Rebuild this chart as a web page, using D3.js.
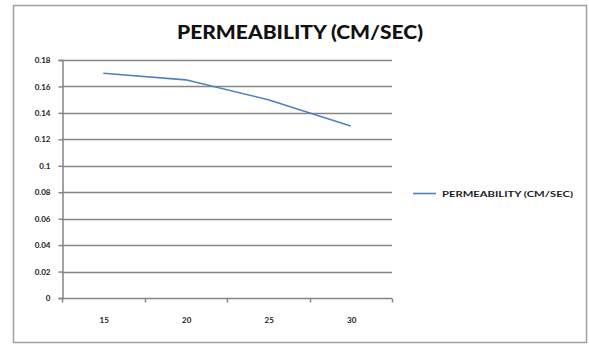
<!DOCTYPE html>
<html>
<head>
<meta charset="utf-8">
<script src="https://cdn.jsdelivr.net/npm/d3@7"></script>
<style>
  html, body { margin: 0; padding: 0; background: #ffffff; }
  svg { display: block; }
</style>
</head>
<body>
<svg id="chart" width="589" height="345"></svg>
<script>
// Data
const categories = ["15", "20", "25", "30"];
const permeability = [0.17, 0.165, 0.15, 0.13];
const yTicks = [0, 0.02, 0.04, 0.06, 0.08, 0.1, 0.12, 0.14, 0.16, 0.18];
const seriesName = "PERMEABILITY (CM/SEC)";
const titleText = "PERMEABILITY (CM/SEC)";

const svg = d3.select("#chart");
const font = "Lato, 'Open Sans', 'Liberation Sans', sans-serif";
const gridColor = "#858585";
const textColor = "#1a1a1a";
const lineColor = "#4F81BD";

// Outer chart frame
svg.append("rect")
  .attr("x", 13.5).attr("y", 5.5)
  .attr("width", 573).attr("height", 337)
  .attr("fill", "#fff")
  .attr("stroke", "#a0a0a0")
  .attr("stroke-width", 1.5);

const plot = { left: 62, right: 392, top: 60, bottom: 298 };

const x = d3.scaleBand().domain(categories).range([plot.left, plot.right]).padding(0);
const y = d3.scaleLinear().domain([0, 0.18]).range([plot.bottom, plot.top]);

// Horizontal gridlines
svg.append("g")
  .selectAll("line")
  .data(yTicks.filter(d => d > 0))
  .join("line")
  .attr("x1", plot.left).attr("x2", plot.right)
  .attr("y1", d => Math.round(y(d)) + 0.5).attr("y2", d => Math.round(y(d)) + 0.5)
  .attr("stroke", gridColor).attr("stroke-width", 1.5);

// Y axis
const yAxis = svg.append("g")
  .attr("transform", `translate(${plot.left + 0.5},0)`)
  .call(d3.axisLeft(y).tickValues(yTicks).tickSize(4).tickPadding(8)
    .tickFormat(d => d === 0 ? "0" : String(+d.toFixed(2))));
yAxis.select(".domain").attr("stroke", gridColor).attr("stroke-width", 1.5);
yAxis.selectAll(".tick line").attr("stroke", gridColor).attr("stroke-width", 1.5);
yAxis.selectAll(".tick text")
  .attr("fill", textColor)
  .style("font-family", font).style("font-size", "8px").style("font-weight", "bold");

// X axis (category boundaries as ticks)
const xAxisG = svg.append("g")
  .attr("transform", `translate(0,${Math.round(plot.bottom) + 0.5})`);
xAxisG.append("line")
  .attr("x1", plot.left).attr("x2", plot.right)
  .attr("stroke", gridColor).attr("stroke-width", 1.5);
const boundaries = categories.map(c => x(c)).concat([x(categories[categories.length - 1]) + x.bandwidth()]);
xAxisG.selectAll("line.tk")
  .data(boundaries)
  .join("line")
  .attr("class", "tk")
  .attr("x1", d => Math.round(d) + 0.5).attr("x2", d => Math.round(d) + 0.5)
  .attr("y1", 0).attr("y2", 4)
  .attr("stroke", gridColor).attr("stroke-width", 1.5);
xAxisG.selectAll("text")
  .data(categories)
  .join("text")
  .attr("x", d => x(d) + x.bandwidth() / 2 + 1)
  .attr("y", 24)
  .attr("text-anchor", "middle")
  .attr("fill", textColor)
  .style("font-family", font).style("font-size", "8px").style("font-weight", "bold")
  .text(d => d);

// Data line
const line = d3.line()
  .x((d, i) => x(categories[i]) + x.bandwidth() / 2)
  .y(d => y(d));
svg.append("path")
  .datum(permeability)
  .attr("d", line)
  .attr("fill", "none")
  .attr("stroke", lineColor)
  .attr("stroke-width", 1.6);

// Title
svg.append("text")
  .attr("x", 300).attr("y", 39)
  .attr("text-anchor", "middle")
  .attr("fill", "#111")
  .style("font-family", font).style("font-size", "18px").style("font-weight", "900")
  .attr("textLength", 246).attr("lengthAdjust", "spacingAndGlyphs")
  .text(titleText);

// Legend
const legend = svg.append("g").attr("transform", "translate(413,193)");
legend.append("line")
  .attr("x1", 0).attr("x2", 23).attr("y1", 0.5).attr("y2", 0.5)
  .attr("stroke", lineColor).attr("stroke-width", 1.6);
legend.append("text")
  .attr("x", 29).attr("y", 3.5)
  .attr("fill", textColor)
  .style("font-family", font).style("font-size", "8px").style("font-weight", "bold")
  .attr("textLength", 131).attr("lengthAdjust", "spacingAndGlyphs")
  .text(seriesName);
</script>
</body>
</html>
